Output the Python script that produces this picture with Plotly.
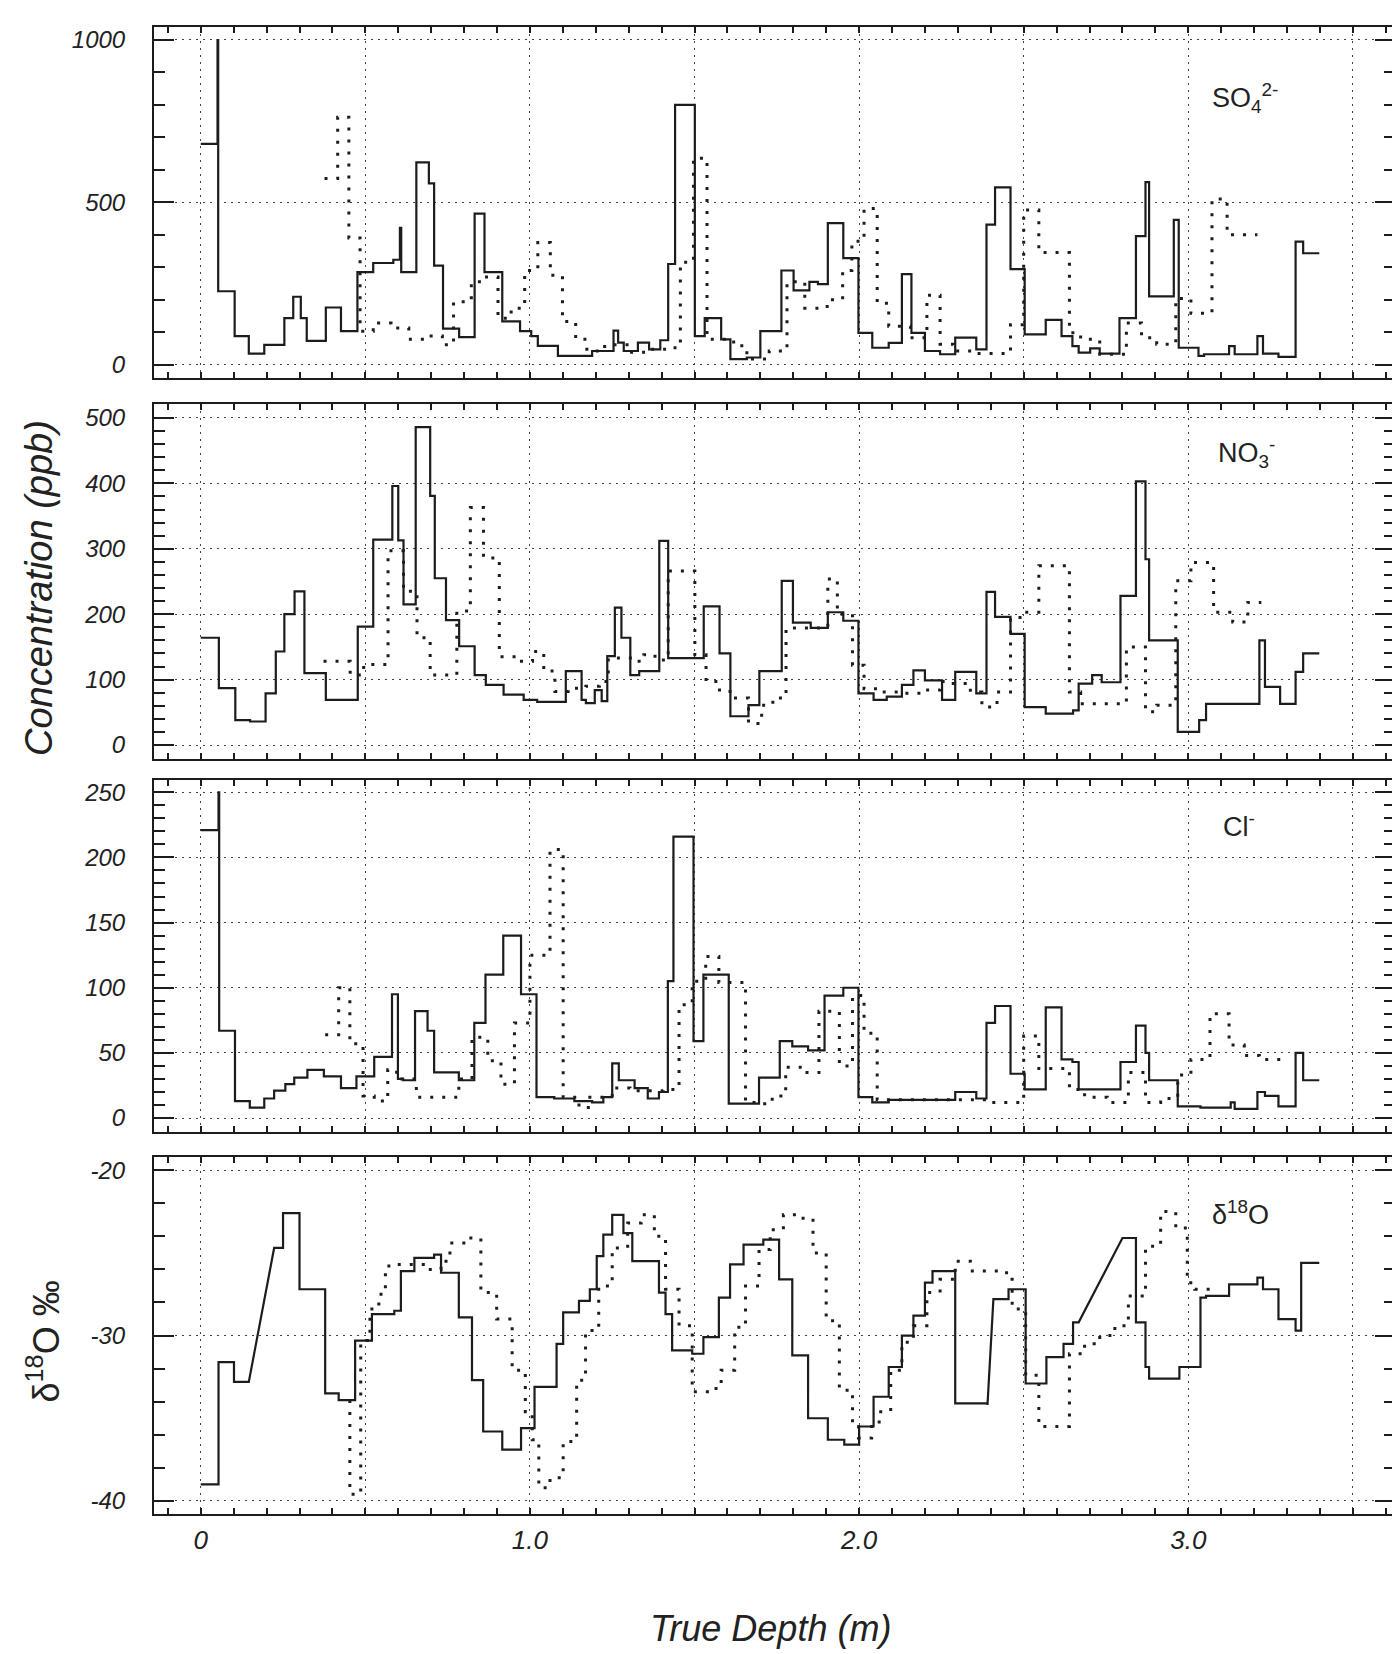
import plotly.graph_objects as go

# Depth (m) where each step starts, and the step value.
SO4_SOLID_X = [0, 0.051, 0.053, 0.103, 0.146, 0.193, 0.254, 0.281, 0.304, 0.322, 0.380, 0.426, 0.476,
               0.524, 0.585, 0.605, 0.609, 0.655, 0.693, 0.709, 0.736, 0.785, 0.832, 0.862, 0.916, 0.970,
               1.004, 1.024, 1.085, 1.189, 1.254, 1.268, 1.285, 1.328, 1.362, 1.396, 1.420, 1.441, 1.501,
               1.531, 1.581, 1.609, 1.659, 1.700, 1.764, 1.801, 1.849, 1.875, 1.905, 1.952, 1.998, 2.040,
               2.090, 2.130, 2.159, 2.200, 2.246, 2.292, 2.356, 2.387, 2.413, 2.460, 2.503, 2.567, 2.615,
               2.648, 2.667, 2.702, 2.731, 2.791, 2.841, 2.870, 2.881, 2.956, 2.971, 3.031, 3.048, 3.124,
               3.141, 3.210, 3.227, 3.274, 3.326, 3.349]
SO4_SOLID_Y = [680, 1000, 226, 88, 34, 61, 143, 209, 143, 73, 176, 103, 285, 313, 323, 421, 285, 623, 558,
               305, 111, 85, 465, 285, 133, 103, 88, 58, 27, 42, 105, 68, 42, 68, 47, 75, 310, 800, 88, 143,
               78, 17, 22, 103, 290, 229, 255, 248, 436, 328, 98, 52, 67, 279, 98, 42, 32, 83, 47, 431, 546,
               294, 93, 138, 88, 57, 37, 50, 34, 143, 396, 562, 210, 446, 52, 27, 32, 57, 32, 88, 34, 24,
               379, 343]
SO4_SOLID_END = 3.398
SO4_DOT_X = [0.376, 0.416, 0.450, 0.484, 0.524, 0.578, 0.632, 0.686, 0.734, 0.768, 0.822, 0.862, 0.903,
             0.943, 0.984, 1.024, 1.062, 1.099, 1.139, 1.173, 1.227, 1.301, 1.362, 1.409, 1.457, 1.497,
             1.538, 1.619, 1.659, 1.727, 1.781, 1.835, 1.903, 1.950, 1.978, 2.015, 2.055, 2.090, 2.156,
             2.206, 2.246, 2.286, 2.350, 2.460, 2.500, 2.546, 2.639, 2.673, 2.731, 2.812, 2.858, 2.904,
             2.962, 3.008, 3.072, 3.118]
SO4_DOT_Y = [573, 762, 390, 103, 128, 113, 78, 88, 61, 194, 255, 270, 143, 174, 290, 376, 275, 133, 78, 42,
             61, 38, 47, 52, 315, 636, 78, 58, 17, 42, 255, 174, 200, 290, 380, 481, 189, 118, 83, 214, 63,
             42, 34, 123, 476, 345, 98, 78, 32, 128, 83, 63, 204, 158, 510, 400]
SO4_DOT_END = 3.210

NO3_SOLID_X = [0, 0.055, 0.105, 0.150, 0.197, 0.228, 0.254, 0.285, 0.315, 0.380, 0.477, 0.524, 0.582,
               0.600, 0.616, 0.653, 0.697, 0.711, 0.745, 0.785, 0.832, 0.866, 0.920, 0.981, 1.022, 1.109,
               1.157, 1.170, 1.197, 1.218, 1.235, 1.258, 1.278, 1.305, 1.332, 1.393, 1.420, 1.528, 1.576,
               1.609, 1.664, 1.697, 1.765, 1.799, 1.853, 1.905, 1.952, 1.998, 2.044, 2.084, 2.130, 2.165,
               2.200, 2.252, 2.292, 2.356, 2.387, 2.413, 2.460, 2.503, 2.567, 2.650, 2.667, 2.708, 2.737,
               2.794, 2.841, 2.870, 2.881, 2.968, 3.033, 3.054, 3.216, 3.233, 3.279, 3.326, 3.349]
NO3_SOLID_Y = [164, 87, 38, 36, 79, 143, 200, 235, 110, 69, 181, 314, 396, 313, 215, 486, 381, 255, 191,
               151, 107, 92, 77, 69, 66, 113, 69, 64, 84, 67, 136, 210, 164, 107, 113, 312, 133, 212, 140,
               44, 61, 113, 251, 187, 179, 203, 190, 79, 69, 74, 92, 114, 99, 69, 112, 79, 234, 196, 170,
               58, 48, 53, 94, 107, 96, 228, 403, 284, 160, 20, 38, 63, 160, 89, 63, 112, 140]
NO3_SOLID_END = 3.398
NO3_DOT_X = [0.373, 0.454, 0.495, 0.569, 0.616, 0.657, 0.697, 0.778, 0.819, 0.859, 0.907, 0.968, 1.008,
             1.042, 1.076, 1.116, 1.170, 1.211, 1.238, 1.305, 1.346, 1.380, 1.420, 1.501, 1.535, 1.576,
             1.616, 1.664, 1.704, 1.738, 1.778, 1.905, 1.934, 1.980, 2.015, 2.055, 2.130, 2.200, 2.246,
             2.286, 2.338, 2.373, 2.419, 2.460, 2.500, 2.546, 2.639, 2.673, 2.812, 2.870, 2.904, 2.962,
             3.008, 3.077, 3.135, 3.181]
NO3_DOT_Y = [128, 107, 123, 297, 235, 164, 107, 205, 363, 286, 135, 128, 143, 113, 82, 87, 90, 97, 133,
             128, 138, 130, 266, 138, 97, 82, 72, 33, 61, 72, 179, 254, 200, 122, 86, 81, 79, 84, 97, 94,
             81, 58, 81, 195, 203, 274, 81, 63, 150, 51, 61, 251, 279, 203, 188, 218]
NO3_DOT_END = 3.222

CL_SOLID_X = [0, 0.054, 0.056, 0.104, 0.149, 0.193, 0.223, 0.257, 0.284, 0.324, 0.374, 0.426, 0.473,
              0.527, 0.581, 0.599, 0.615, 0.651, 0.689, 0.709, 0.784, 0.831, 0.865, 0.919, 0.973, 1.020,
              1.074, 1.135, 1.189, 1.223, 1.250, 1.270, 1.318, 1.358, 1.392, 1.419, 1.436, 1.497, 1.527,
              1.604, 1.696, 1.759, 1.797, 1.845, 1.895, 1.952, 1.998, 2.040, 2.090, 2.292, 2.356, 2.387,
              2.413, 2.460, 2.503, 2.567, 2.615, 2.648, 2.667, 2.794, 2.841, 2.870, 2.881, 2.968, 3.037,
              3.129, 3.141, 3.210, 3.233, 3.274, 3.326, 3.349]
CL_SOLID_Y = [221, 250, 67, 13, 8, 15, 21, 26, 31, 37, 32, 23, 32, 47, 95, 30, 29, 82, 67, 35, 29, 73, 110,
              140, 95, 16, 15, 13, 12, 16, 42, 29, 23, 15, 20, 105, 216, 59, 110, 11, 31, 59, 55, 52, 94,
              100, 16, 12, 14, 20, 15, 73, 86, 34, 22, 85, 45, 43, 22, 43, 71, 50, 29, 9, 8, 12, 7, 20, 17,
              9, 50, 29]
CL_SOLID_END = 3.398
CL_DOT_X = [0.378, 0.419, 0.453, 0.493, 0.527, 0.568, 0.595, 0.655, 0.784, 0.824, 0.872, 0.912, 0.953,
            1.000, 1.061, 1.101, 1.149, 1.182, 1.250, 1.304, 1.405, 1.453, 1.493, 1.534, 1.574, 1.655,
            1.696, 1.736, 1.777, 1.831, 1.878, 1.940, 1.980, 2.015, 2.055, 2.396, 2.500, 2.546, 2.639,
            2.685, 2.754, 2.818, 2.870, 2.916, 2.968, 3.008, 3.066, 3.124, 3.170, 3.216]
CL_DOT_Y = [64, 100, 57, 17, 13, 37, 30, 16, 30, 62, 44, 26, 73, 125, 206, 16, 8, 16, 23, 21, 22, 87, 105,
            124, 104, 12, 11, 17, 39, 35, 82, 40, 94, 65, 14, 12, 63, 38, 22, 16, 12, 35, 12, 15, 33, 45,
            80, 56, 48, 45]
CL_DOT_END = 3.297

D18O_SOLID_X = [0, 0.054, 0.101, 0.146, 0.223, 0.250, 0.300, 0.378, 0.419, 0.469, 0.520, 0.588, 0.608,
                0.649, 0.709, 0.730, 0.784, 0.824, 0.858, 0.916, 0.973, 1.014, 1.081, 1.101, 1.149, 1.182,
                1.203, 1.223, 1.250, 1.284, 1.311, 1.392, 1.412, 1.432, 1.493, 1.527, 1.574, 1.608, 1.649,
                1.709, 1.757, 1.797, 1.845, 1.905, 1.955, 2.000, 2.044, 2.090, 2.130, 2.165, 2.200, 2.223,
                2.292, 2.390, 2.408, 2.454, 2.506, 2.569, 2.621, 2.650, 2.667, 2.800, 2.841, 2.870, 2.881,
                2.973, 3.037, 3.054, 3.124, 3.210, 3.227, 3.274, 3.326, 3.343]
D18O_SOLID_Y = [-39.0, -31.6, -32.8, -32.8, -24.7, -22.6, -27.2, -33.5, -33.9, -30.3, -28.7, -28.5, -26.1,
                -25.3, -25.1, -26.2, -28.9, -32.7, -35.8, -36.9, -35.6, -33.1, -30.5, -28.6, -27.9, -27.2,
                -25.2, -23.9, -22.7, -23.8, -25.5, -27.4, -28.7, -30.9, -31.1, -30.1, -27.7, -25.7, -24.5,
                -24.2, -26.6, -31.2, -35.0, -36.3, -36.6, -35.5, -33.7, -31.9, -30.0, -28.8, -26.8, -26.1,
                -34.1, -34.2, -27.8, -27.2, -32.9, -31.3, -30.5, -29.2, -29.2, -24.1, -29.2, -31.9, -32.6,
                -31.9, -27.7, -27.6, -26.9, -26.5, -27.2, -29.0, -29.7, -25.6]
D18O_SOLID_END = 3.398
D18O_SOLID_RAMPS = [3, 53, 60]  # steps drawn as a sloping line into the next value
D18O_DOT_X = [0.453, 0.453, 0.486, 0.514, 0.541, 0.561, 0.595, 0.676, 0.730, 0.757, 0.804, 0.851, 0.899,
              0.946, 0.986, 1.007, 1.027, 1.061, 1.101, 1.142, 1.169, 1.209, 1.250, 1.297, 1.338, 1.378,
              1.412, 1.453, 1.493, 1.547, 1.581, 1.622, 1.655, 1.696, 1.730, 1.770, 1.824, 1.860, 1.900,
              1.940, 1.980, 1.998, 2.038, 2.061, 2.096, 2.130, 2.165, 2.206, 2.246, 2.292, 2.338, 2.448,
              2.465, 2.506, 2.546, 2.639, 2.685, 2.731, 2.777, 2.818, 2.870, 2.916, 2.962, 2.997, 3.020]
D18O_DOT_Y = [-33.9, -39.6, -30.3, -28.4, -27.5, -25.8, -25.7, -26.0, -25.5, -24.4, -24.1, -27.4, -29.0,
              -32.1, -34.6, -36.3, -39.2, -38.6, -36.4, -32.7, -29.7, -27.0, -24.7, -23.2, -22.7, -24.0,
              -27.2, -29.4, -33.4, -33.2, -32.1, -29.5, -27.0, -24.8, -23.6, -22.7, -22.9, -25.0, -29.1,
              -33.3, -35.5, -36.2, -35.5, -34.6, -32.1, -30.4, -29.4, -27.4, -26.6, -25.5, -26.1, -26.6,
              -28.4, -32.4, -35.5, -31.1, -30.5, -30.0, -29.4, -27.6, -24.6, -22.5, -23.5, -26.8, -27.2]
D18O_DOT_END = 3.077

X_TICKS = [0, 0.5, 1.0, 1.5, 2.0, 2.5, 3.0, 3.5]
X_TICK_TEXT = ["0", "", "1.0", "", "2.0", "", "3.0", ""]


def step_path(edges, values, end, ramps=()):
    """Turn step starts into a drawable path (horizontal, then vertical)."""
    xs, ys = [], []
    for i, v in enumerate(values):
        x1 = edges[i + 1] if i + 1 < len(edges) else end
        xs.append(edges[i])
        ys.append(v)
        if i in ramps:
            continue
        xs.append(x1)
        ys.append(v)
    return xs, ys


INK = "#1c1c1c"
GRID = "#444444"
FONT = "Liberation Sans"

panels = [
    dict(solid=(SO4_SOLID_X, SO4_SOLID_Y, SO4_SOLID_END, ()),
         dot=(SO4_DOT_X, SO4_DOT_Y, SO4_DOT_END),
         domain=[0.7640, 1.0], range=[-41, 1040], ticks=[0, 500, 1000], minor=100,
         label="SO<sub>4</sub><sup>2-</sup>", label_x=3.066, label_y=821),
    dict(solid=(NO3_SOLID_X, NO3_SOLID_Y, NO3_SOLID_END, ()),
         dot=(NO3_DOT_X, NO3_DOT_Y, NO3_DOT_END),
         domain=[0.5077, 0.7465], range=[-21.4, 521.4], ticks=[0, 100, 200, 300, 400, 500], minor=20,
         label="NO<sub>3</sub><sup>-</sup>", label_x=3.083, label_y=447),
    dict(solid=(CL_SOLID_X, CL_SOLID_Y, CL_SOLID_END, ()),
         dot=(CL_DOT_X, CL_DOT_Y, CL_DOT_END),
         domain=[0.2569, 0.4936], range=[-10.7, 259.4], ticks=[0, 50, 100, 150, 200, 250], minor=10,
         label="Cl<sup>-</sup>", label_x=3.098, label_y=225),
    dict(solid=(D18O_SOLID_X, D18O_SOLID_Y, D18O_SOLID_END, D18O_SOLID_RAMPS),
         dot=(D18O_DOT_X, D18O_DOT_Y, D18O_DOT_END),
         domain=[0.0, 0.2401], range=[-40.79, -19.2], ticks=[-40, -30, -20], minor=2,
         label="δ<sup>18</sup>O", label_x=3.066, label_y=-22.6),
]

fig = go.Figure()

for n, p in enumerate(panels, start=1):
    sfx = "" if n == 1 else str(n)
    ex, ey, end, ramps = p["solid"]
    xs, ys = step_path(ex, ey, end, ramps)
    fig.add_trace(go.Scatter(x=xs, y=ys, mode="lines", xaxis="x" + sfx, yaxis="y" + sfx,
                             line=dict(color=INK, width=2.2), showlegend=False))
    dx, dy, dend = p["dot"]
    xs, ys = step_path(dx, dy, dend)
    fig.add_trace(go.Scatter(x=xs, y=ys, mode="lines", xaxis="x" + sfx, yaxis="y" + sfx,
                             line=dict(color=INK, width=3, dash="3px,9px"), showlegend=False))

    bottom = n == len(panels)
    fig.update_layout({
        "xaxis" + sfx: dict(
            domain=[0, 1], anchor="y" + sfx, range=[-0.142, 3.628],
            tickmode="array", tickvals=X_TICKS, ticktext=X_TICK_TEXT,
            showticklabels=bottom, ticks="inside", ticklen=6, tickwidth=1.5, tickcolor=INK,
            minor=dict(tickmode="linear", tick0=0, dtick=0.1, ticks="inside", ticklen=6,
                       tickwidth=1.5, tickcolor=INK, showgrid=False),
            showgrid=True, gridcolor=GRID, griddash="2px,5px", gridwidth=1.4,
            showline=True, linecolor=INK, linewidth=2, mirror="allticks", zeroline=False,
            tickfont=dict(family=FONT, size=26, color="#222", style="italic"),
            ticklabelstandoff=2,
        ),
        "yaxis" + sfx: dict(
            domain=p["domain"], anchor="x" + sfx, range=p["range"],
            tickmode="array", tickvals=p["ticks"], ticktext=[str(t) for t in p["ticks"]],
            ticks="inside", ticklen=20, tickwidth=2, tickcolor=INK,
            minor=dict(tickmode="linear", tick0=0, dtick=p["minor"], ticks="inside", ticklen=11,
                       tickwidth=1.5, tickcolor=INK, showgrid=False),
            showgrid=True, gridcolor=GRID, griddash="2px,5px", gridwidth=1.4,
            showline=True, linecolor=INK, linewidth=2, mirror="allticks", zeroline=False,
            tickfont=dict(family=FONT, size=24, color="#222", style="italic"),
            ticklabelstandoff=22,
        ),
    })
    fig.add_annotation(x=p["label_x"], y=p["label_y"], xref="x" + sfx, yref="y" + sfx,
                       text=p["label"], showarrow=False, xanchor="left", yanchor="middle",
                       font=dict(family=FONT, size=27, color="#222"))

# Axis titles
fig.add_annotation(x=-0.0927, y=0.6227, xref="paper", yref="paper", text="Concentration (ppb)",
                   textangle=-90, showarrow=False, xanchor="center", yanchor="middle",
                   font=dict(family=FONT, size=38, color="#222", style="italic"))
fig.add_annotation(x=-0.0895, y=0.116, xref="paper", yref="paper", text="δ<sup>18</sup>O ‰",
                   textangle=-90, showarrow=False, xanchor="center", yanchor="middle",
                   font=dict(family=FONT, size=36, color="#222"))
fig.add_annotation(x=0.4965, y=-0.0767, xref="paper", yref="paper", text="True Depth (m)",
                   showarrow=False, xanchor="center", yanchor="middle",
                   font=dict(family=FONT, size=36, color="#222", style="italic"))

fig.update_layout(
    width=1400, height=1654,
    margin=dict(l=146, r=13, t=19, b=148),
    paper_bgcolor="white", plot_bgcolor="white",
    showlegend=False,
)

fig.write_html("out.html")
